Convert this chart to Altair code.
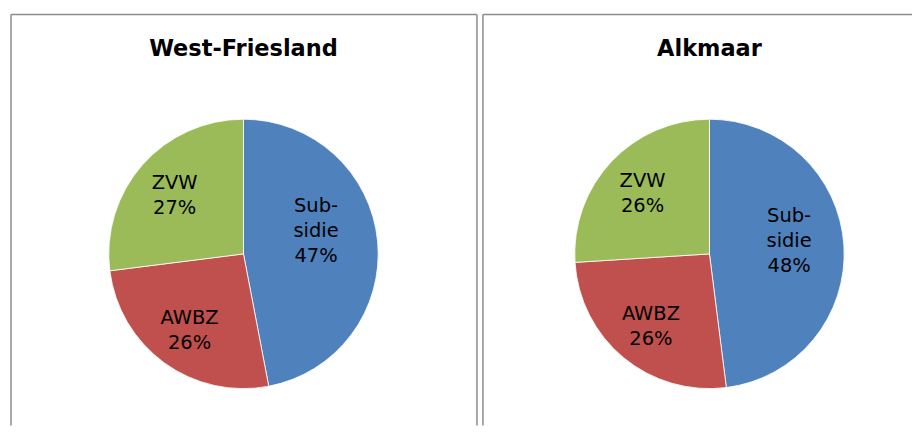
import altair as alt
import pandas as pd

regions = ["West-Friesland", "Alkmaar"]
categories = ["Subsidie", "AWBZ", "ZVW"]
label_names = ["Sub-\nsidie", "AWBZ", "ZVW"]
west_friesland = [47, 26, 27]
alkmaar = [48, 26, 26]
colors = ["#4F81BD", "#C0504D", "#9BBB59"]

H = 412
CY = 240
BORDER = "#8c8c8c"
FS = 19.5
LH = 25


def panel(region, values, W, cx, right_border, r3, dy3):
    df = pd.DataFrame({
        "cat": categories,
        "value": values,
        "idx": list(range(len(categories))),
        "text": [f"{n}\n{v}%" for n, v in zip(label_names, values)],
    })
    total = sum(values)
    base = alt.Chart(df)
    tscale = alt.Scale(domain=[0, total])
    arcs = base.mark_arc(radius=135, stroke="white", strokeWidth=0.8).encode(
        theta=alt.Theta("value:Q", stack=True, scale=tscale),
        order=alt.Order("idx:Q"),
        color=alt.Color("cat:N", scale=alt.Scale(domain=categories, range=colors), legend=None),
        x=alt.value(cx),
        y=alt.value(CY),
    )
    lab_base = base.transform_window(
        cum="sum(value)", sort=[alt.SortField("idx")], frame=[None, 0]
    ).transform_calculate(
        mid="datum.cum - datum.value / 2",
        nl="length(split(datum.text, '\\n'))",
    )
    enc = dict(
        theta=alt.Theta("mid:Q", stack=None, scale=tscale),
        text="text:N",
        x=alt.value(cx),
        y=alt.value(CY),
    )
    lab2 = lab_base.transform_filter("datum.nl == 2").mark_text(
        font="DejaVu Sans", fontSize=FS, lineBreak="\n", lineHeight=LH,
        color="black", dy=-LH / 2 + 2, radius=92).encode(**enc)
    lab3 = lab_base.transform_filter("datum.nl == 3").mark_text(
        font="DejaVu Sans", fontSize=FS, lineBreak="\n", lineHeight=LH,
        color="black", dy=dy3, radius=r3).encode(**enc)
    tdf = pd.DataFrame({"region": [region]})
    title = alt.Chart(tdf).mark_text(font="DejaVu Sans", fontWeight="bold", fontSize=22.5,
                                     color="black").encode(
        text="region:N", x=alt.value(cx), y=alt.value(35))
    rule = alt.Chart(tdf).mark_rule(color=BORDER, strokeWidth=1.5)
    left = rule.encode(x=alt.value(0), y=alt.value(0), y2=alt.value(H))
    top = rule.encode(x=alt.value(0), x2=alt.value(W), y=alt.value(0))
    layers = [arcs, lab2, lab3, title, left, top]
    if right_border:
        layers.append(rule.encode(x=alt.value(W), y=alt.value(0), y2=alt.value(H)))
    return alt.layer(*layers).properties(width=W, height=H)


p1 = panel(regions[0], west_friesland, 467, 233, True, 73, -41)
p2 = panel(regions[1], alkmaar, 430, 227, False, 80, -33)

chart = alt.hconcat(p1, p2, spacing=4).properties(
    padding={"left": 2, "top": 5, "right": 0, "bottom": 0}
).configure_view(stroke=None)

chart.save("out.html", embed_options={"renderer": "svg", "actions": False})
